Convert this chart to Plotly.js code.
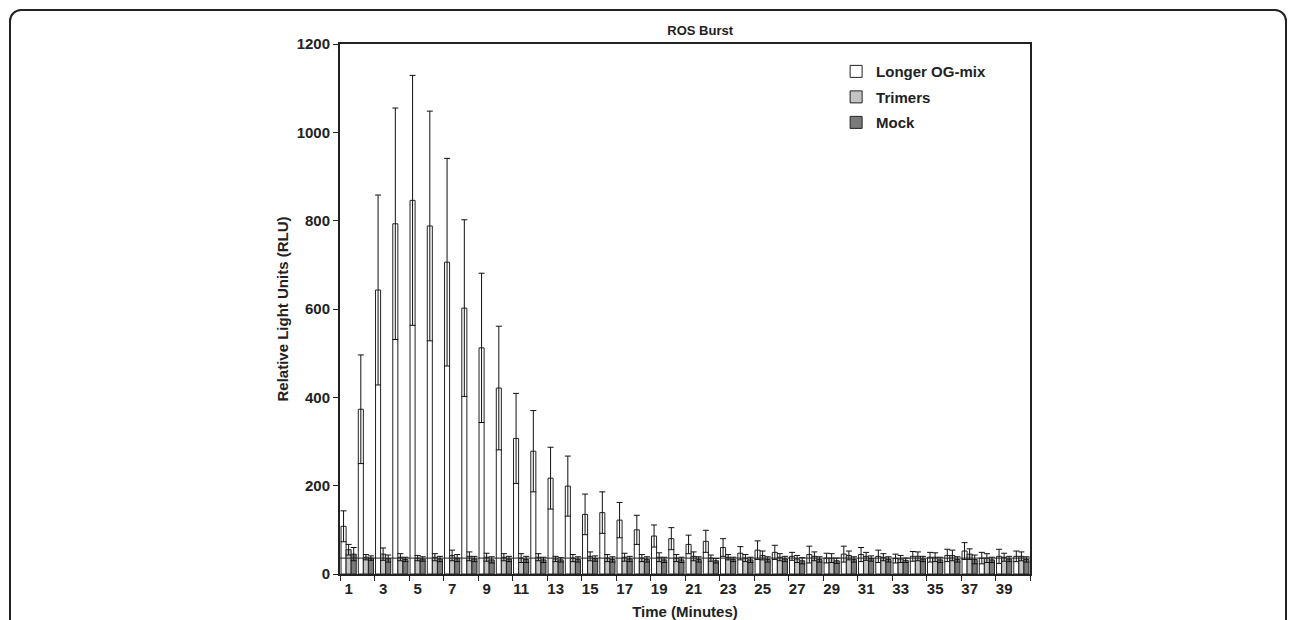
<!DOCTYPE html>
<html>
<head>
<meta charset="utf-8">
<script src="https://cdn.plot.ly/plotly-3.0.1.min.js"></script>
<style>
  html, body { margin: 0; padding: 0; background: #fff; overflow: hidden; }
  #frame { position: absolute; left: 9px; top: 9px; width: 1274px; height: 660px; border: 2px solid #222; border-radius: 12px; }
  #chart { position: absolute; left: 0; top: 0; width: 1296px; height: 620px; }
</style>
</head>
<body>
<div id="frame"></div>
<div id="chart"></div>
<script>
const minutes = Array.from({length: 40}, (_, i) => i + 1);
const tickLabels = [1,3,5,7,9,11,13,15,17,19,21,23,25,27,29,31,33,35,37,39];

const longerOG = [108,373,643,793,846,788,706,602,512,421,307,278,217,199,135,139,122,100,86,80,
                  67,74,60,47,54,49,40,44,36,45,44,40,35,40,38,42,52,36,40,40];
const longerOGsd = [35,123,215,262,283,260,235,200,169,140,102,92,70,68,46,47,40,33,25,25,
                    21,25,20,15,21,16,9,19,11,18,16,14,10,11,11,14,19,13,16,12];

const trimers = [55,38,45,38,36,38,42,40,38,38,36,38,34,36,40,36,38,36,38,36,
                 40,36,38,36,42,38,34,40,36,42,40,38,34,40,38,42,45,36,38,40];
const trimersSd = [12,6,14,8,6,8,12,10,9,8,10,8,6,8,10,8,9,8,10,8,
                   10,7,6,8,10,8,8,10,10,10,9,8,8,10,10,12,12,10,9,10];

const mock = [45,36,35,33,34,34,36,34,32,34,33,32,32,33,35,33,34,33,32,32,
              33,30,33,32,33,34,30,33,30,33,35,33,31,34,32,33,33,32,34,33];
const mockSd = [15,5,8,5,5,6,8,6,7,6,7,6,5,6,6,6,6,6,6,6,
                6,5,5,6,6,6,7,6,6,6,6,6,5,6,6,6,10,6,6,6];

const baselineLevel = 36;

function errSpec(arr) {
  return {type: 'data', array: arr, visible: true, color: '#111', thickness: 1, width: 3};
}

const traces = [
  {type: 'bar', name: 'Longer OG-mix', legendgroup: 'a', x: minutes, y: longerOG, error_y: errSpec(longerOGsd),
   marker: {color: '#ffffff', line: {color: '#222', width: 1}}},
  {type: 'bar', name: 'Trimers', legendgroup: 'b', x: minutes, y: trimers, error_y: errSpec(trimersSd),
   marker: {color: '#c4c4c4', line: {color: '#222', width: 1}}},
  {type: 'bar', name: 'Mock', legendgroup: 'c', x: minutes, y: mock, error_y: errSpec(mockSd),
   marker: {color: '#7a7a7a', line: {color: '#222', width: 1}}}
];

const layout = {
  width: 1296, height: 620,
  margin: {l: 340, r: 266, t: 44, b: 46},
  paper_bgcolor: 'rgba(0,0,0,0)', plot_bgcolor: '#fff',
  font: {family: 'Liberation Sans, Arial, sans-serif', size: 15, color: '#222', weight: 'bold'},
  title: {text: 'ROS Burst', x: 0.522, xref: 'paper', xanchor: 'center', y: 0.951, yanchor: 'middle',
          font: {size: 13, weight: 'bold', color: '#222'}},
  barmode: 'group', bargap: 0.12, bargroupgap: 0,
  showlegend: true,
  legend: {x: 0.719, y: 0.979, xanchor: 'left', yanchor: 'top', bgcolor: 'rgba(0,0,0,0)',
           font: {size: 15, weight: 'bold', color: '#222'}, itemwidth: 30, tracegroupgap: 3},
  xaxis: {
    range: [0.5, 40.5], tickmode: 'array', tickvals: tickLabels, ticktext: tickLabels.map(String),
    ticks: '', showgrid: false, zeroline: false,
    showline: true, linecolor: '#222', linewidth: 2, mirror: true,
    minor: {tickmode: 'linear', tick0: 0.5, dtick: 2, ticks: 'outside', ticklen: 5, tickwidth: 1, tickcolor: '#222', showgrid: false},
    tickfont: {size: 15, weight: 'bold'},
    title: {text: 'Time (Minutes)', standoff: 12, font: {size: 15, weight: 'bold'}}
  },
  yaxis: {
    range: [0, 1200], tickmode: 'linear', tick0: 0, dtick: 200,
    ticks: 'outside', ticklen: 5, tickwidth: 1, tickcolor: '#222',
    showgrid: false, zeroline: false,
    showline: true, linecolor: '#222', linewidth: 2, mirror: true,
    tickfont: {size: 15, weight: 'bold'},
    title: {text: 'Relative Light Units (RLU)', standoff: 4, font: {size: 15, weight: 'bold'}}
  },
  shapes: [
    {type: 'line', xref: 'paper', x0: 0, x1: 1, yref: 'y', y0: baselineLevel, y1: baselineLevel,
     line: {color: '#222', width: 1}, layer: 'above'}
  ]
};

Plotly.newPlot('chart', traces, layout, {displayModeBar: false, staticPlot: true});
</script>
</body>
</html>
